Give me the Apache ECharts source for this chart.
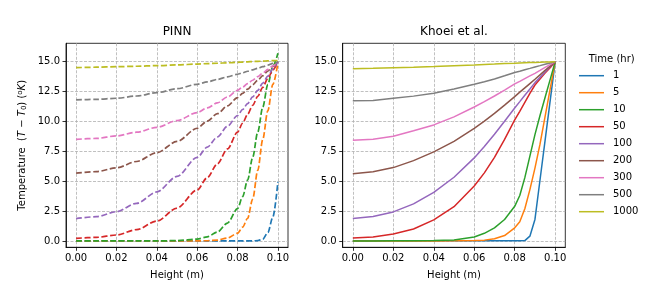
<!DOCTYPE html>
<html><head><meta charset="utf-8">
<script src="https://cdn.jsdelivr.net/npm/echarts@6/dist/echarts.min.js"></script>
<style>html,body{margin:0;padding:0;background:#fff}#c{width:664px;height:291px}</style>
</head><body><div id="c"></div>
<script>
// ---- data ----
const heights = [0,0.01,0.02,0.03,0.04,0.05,0.06,0.065,0.07,0.075,0.08,0.0825,0.085,0.0875,0.09,0.0925,0.095,0.0975,0.1];
const timeLabels = ['1','5','10','50','100','200','300','500','1000'];
const yTicks = [0,2.5,5,7.5,10,12.5,15];
const xTicks = [0,0.02,0.04,0.06,0.08,0.1];

// PINN (dashed)
const pinn_1    = [0,0,0,0,0,0,0,0,0,0,0,0,0,0.01,0.03,0.15,0.7,2.0,4.95];
const pinn_5    = [0,0,0,0,0,0,0.01,0.02,0.07,0.25,0.65,1.15,1.9,3.5,5.9,8.5,10.9,13.1,14.9];
const pinn_10   = [0,0,0,0,0,0.03,0.15,0.35,0.75,1.5,2.7,3.7,5.1,7.0,9.1,11.2,13.1,14.6,15.7];
const pinn_50   = [0.22,0.3,0.5,0.95,1.67,2.75,4.27,5.3,6.45,7.7,9.1,9.85,10.6,11.35,12.1,12.85,13.6,14.3,15.0];
const pinn_100  = [1.87,2.03,2.45,3.15,4.1,5.4,6.99,7.85,8.7,9.6,10.5,11.0,11.5,12.05,12.6,13.2,13.8,14.4,15.0];
const pinn_200  = [5.67,5.8,6.12,6.65,7.39,8.33,9.43,10.03,10.65,11.3,12.0,12.35,12.7,13.08,13.45,13.83,14.22,14.6,15.0];
const pinn_300  = [8.5,8.58,8.79,9.1,9.51,10.07,10.74,11.13,11.55,12.05,12.6,12.88,13.17,13.45,13.75,14.05,14.35,14.65,14.95];
const pinn_500  = [11.8,11.85,11.94,12.13,12.41,12.74,13.11,13.31,13.52,13.73,13.95,14.07,14.2,14.32,14.45,14.58,14.72,14.86,15.0];
const pinn_1000 = [14.5,14.54,14.58,14.62,14.67,14.73,14.8,14.84,14.87,14.91,14.95,14.97,14.99,15.01,15.03,15.05,15.07,15.09,15.1];

// Khoei et al. (solid)
const khoei_1    = [0.02,0.02,0.02,0.02,0.02,0.02,0.02,0.02,0.02,0.02,0.02,0.02,0.03,0.4,1.8,5.1,8.4,11.7,15];
const khoei_5    = [0,0,0,0,0,0.01,0.03,0.07,0.18,0.45,1.1,1.6,2.7,4.3,6.1,8.1,10.4,12.7,15];
const khoei_10   = [0,0,0.01,0.01,0.03,0.08,0.33,0.64,1.1,1.8,2.9,3.8,5.3,7.1,8.9,10.5,12.0,13.5,15];
const khoei_50   = [0.25,0.33,0.59,1.0,1.76,2.87,4.6,5.7,7.0,8.5,10.13,10.85,11.6,12.35,13.05,13.55,14.05,14.5,15];
const khoei_100  = [1.87,2.04,2.43,3.1,4.07,5.33,6.95,7.9,8.93,10.02,11.13,11.66,12.2,12.72,13.25,13.69,14.13,14.57,15];
const khoei_200  = [5.63,5.8,6.14,6.72,7.45,8.34,9.43,10.03,10.68,11.37,12.08,12.45,12.81,13.17,13.53,13.9,14.27,14.63,15];
const khoei_300  = [8.42,8.52,8.76,9.23,9.71,10.38,11.21,11.66,12.13,12.63,13.14,13.36,13.59,13.81,14.03,14.27,14.52,14.76,15];
const khoei_500  = [11.74,11.76,11.94,12.12,12.36,12.72,13.11,13.33,13.56,13.82,14.09,14.2,14.33,14.44,14.56,14.67,14.79,14.9,15];
const khoei_1000 = [14.42,14.45,14.5,14.54,14.59,14.66,14.73,14.77,14.8,14.84,14.87,14.89,14.91,14.93,14.94,14.95,14.97,14.98,15];

const pinnSeries  = [pinn_1,pinn_5,pinn_10,pinn_50,pinn_100,pinn_200,pinn_300,pinn_500,pinn_1000];
const khoeiSeries = [khoei_1,khoei_5,khoei_10,khoei_50,khoei_100,khoei_200,khoei_300,khoei_500,khoei_1000];

// ---- style ----
const colors = ['#1f77b4','#ff7f0e','#2ca02c','#d62728','#9467bd','#8c564b','#e377c2','#7f7f7f','#bcbd22'];
const FONT = 'DejaVu Sans';

function xAxis(gi){
  return {
    type:'value', gridIndex:gi, min:-0.005, max:0.105, minInterval:0.02, maxInterval:0.02,
    axisLine:{show:true, onZero:false, lineStyle:{color:'#000', width:0.8}},
    axisTick:{show:true, length:3.5, lineStyle:{color:'#000', width:0.8}, customValues:xTicks},
    axisLabel:{color:'#000', fontFamily:FONT, fontSize:10, margin:6, customValues:xTicks,
      formatter:v=>v.toFixed(2)},
    splitLine:{show:true, lineStyle:{color:'#b0b0b0', width:0.8, type:[3,1.5]}},
    name:'Height (m)', nameLocation:'middle', nameGap:23,
    nameTextStyle:{color:'#000', fontFamily:FONT, fontSize:10}
  };
}
function yAxis(gi, withName){
  const a = {
    type:'value', gridIndex:gi, min:-0.53, max:16.54, minInterval:2.5, maxInterval:2.5,
    axisLine:{show:true, onZero:false, lineStyle:{color:'#000', width:0.8}},
    axisTick:{show:true, length:3.5, lineStyle:{color:'#000', width:0.8}, customValues:yTicks},
    axisLabel:{color:'#000', fontFamily:FONT, fontSize:10, margin:6, customValues:yTicks,
      formatter:v=>v.toFixed(1)},
    splitLine:{show:true, lineStyle:{color:'#b0b0b0', width:0.8, type:[3,1.5]}}
  };
  if (withName){
    a.name = '{a|Temperature  (}{i|T}{a| − }{i|T}{s|0}{a|) (}{p|o}{i|K}{a|)}';
    a.nameLocation = 'middle';
    a.nameGap = 38;
    a.nameTextStyle = {
      color:'#000', fontFamily:FONT, fontSize:10,
      rich:{
        a:{fontFamily:FONT, fontSize:10, color:'#000'},
        i:{fontFamily:FONT, fontSize:10, fontStyle:'italic', color:'#000'},
        s:{fontFamily:FONT, fontSize:7, color:'#000', verticalAlign:'bottom', padding:[4,0,0,0]},
        p:{fontFamily:FONT, fontSize:7, color:'#000', verticalAlign:'top', padding:[0,0,4,0]}
      }
    };
  }
  return a;
}

const series = [];
pinnSeries.forEach((vals,k)=>{
  series.push({
    name:'PINN '+timeLabels[k], type:'line', xAxisIndex:0, yAxisIndex:0,
    data: heights.map((h,i)=>[h, vals[i]]),
    symbol:'none', smooth:0.3, smoothMonotone:'x', clip:true,
    lineStyle:{color:colors[k], width:1.7, type:[6,2.5]}, itemStyle:{color:colors[k]}
  });
});
khoeiSeries.forEach((vals,k)=>{
  series.push({
    name:timeLabels[k], type:'line', xAxisIndex:1, yAxisIndex:1,
    data: heights.map((h,i)=>[h, vals[i]]),
    symbol:'none', clip:true,
    lineStyle:{color:colors[k], width:1.5}, itemStyle:{color:colors[k]}
  });
});

const chart = echarts.init(document.getElementById('c'), null, {renderer:'canvas'});
chart.setOption({
  animation:false,
  backgroundColor:'#fff',
  textStyle:{fontFamily:FONT},
  grid:[
    {left:66, top:43.3, width:222, height:204, show:true, borderColor:'#000', borderWidth:0.8, backgroundColor:'transparent'},
    {left:342.7, top:43.3, width:222.6, height:204, show:true, borderColor:'#000', borderWidth:0.8, backgroundColor:'transparent'}
  ],
  xAxis:[xAxis(0), xAxis(1)],
  yAxis:[yAxis(0,true), yAxis(1,false)],
  legend:{
    data: timeLabels, orient:'vertical', left:579, top:70.7, padding:0,
    icon:'path://M0,0L50,0L50,3L0,3Z', symbolKeepAspect:true,
    itemWidth:25, itemHeight:10, itemGap:7, selectedMode:false,
    textStyle:{color:'#000', fontFamily:FONT, fontSize:10, padding:[0,0,0,4]}
  },
  graphic:[
    {type:'text', x:177, y:31.7, style:{text:'PINN', font:'12px "DejaVu Sans"', fill:'#000', align:'center', verticalAlign:'middle'}},
    {type:'text', x:454, y:31.7, style:{text:'Khoei et al.', font:'12px "DejaVu Sans"', fill:'#000', align:'center', verticalAlign:'middle'}},
    {type:'text', x:611.7, y:59, style:{text:'Time (hr)', font:'10px "DejaVu Sans"', fill:'#000', align:'center', verticalAlign:'middle'}}
  ],
  series: series
});
</script>
</body></html>
